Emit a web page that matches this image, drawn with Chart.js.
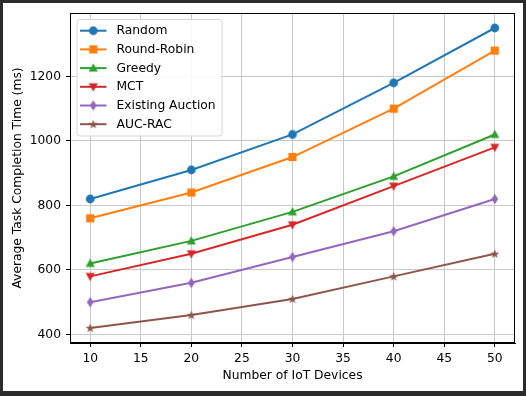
<!DOCTYPE html>
<html>
<head>
<meta charset="utf-8">
<script src="https://cdn.jsdelivr.net/npm/chart.js@4.4.1/dist/chart.umd.min.js"></script>
<style>
  html, body { margin: 0; padding: 0; background: #2b2b2b; }
  #wrap { position: absolute; left: 3px; top: 3px; width: 520px; height: 388px; background: #fff; }
</style>
</head>
<body>
<div id="wrap"><canvas id="chart" width="520" height="388"></canvas></div>
<script>
'use strict';

// data
const deviceCounts = [10, 20, 30, 40, 50];
const randomTimes = [820, 910, 1020, 1180, 1350];
const roundRobinTimes = [760, 840, 950, 1100, 1280];
const greedyTimes = [620, 690, 780, 890, 1020];
const mctTimes = [580, 650, 740, 860, 980];
const auctionTimes = [500, 560, 640, 720, 820];
const aucRacTimes = [420, 460, 510, 580, 650];
const xTicks = [10, 15, 20, 25, 30, 35, 40, 45, 50];
const yTicks = [400, 600, 800, 1000, 1200];

const FONT = 'DejaVu Sans';
const FSIZE = 12.3;

// marker bitmaps, matplotlib-like shapes
function makeMarker(shape, color) {
  const c = document.createElement('canvas');
  const s = 12;
  c.width = s; c.height = s;
  const g = c.getContext('2d');
  const m = s / 2;
  g.fillStyle = color;
  g.beginPath();
  if (shape === 'o') {
    g.arc(m, m, 4.4, 0, Math.PI * 2);
  } else if (shape === 's') {
    g.rect(m - 4.1, m - 4.1, 8.2, 8.2);
  } else if (shape === '^') {
    g.moveTo(m, m - 4.8); g.lineTo(m + 4.6, m + 3.6); g.lineTo(m - 4.6, m + 3.6);
  } else if (shape === 'v') {
    g.moveTo(m, m + 4.8); g.lineTo(m + 4.6, m - 3.6); g.lineTo(m - 4.6, m - 3.6);
  } else if (shape === 'd') {
    g.moveTo(m, m - 5.2); g.lineTo(m + 3.4, m); g.lineTo(m, m + 5.2); g.lineTo(m - 3.4, m);
  } else if (shape === '*') {
    for (let i = 0; i < 10; i++) {
      const r = i % 2 === 0 ? 4.8 : 2.0;
      const a = -Math.PI / 2 + i * Math.PI / 5;
      const px = m + r * Math.cos(a), py = m + 0.3 + r * Math.sin(a);
      if (i === 0) g.moveTo(px, py); else g.lineTo(px, py);
    }
  }
  g.closePath();
  g.fill();
  return c;
}

const series = [
  { label: 'Random', values: randomTimes, color: '#1f77b4', marker: 'o' },
  { label: 'Round-Robin', values: roundRobinTimes, color: '#ff7f0e', marker: 's' },
  { label: 'Greedy', values: greedyTimes, color: '#2ca02c', marker: '^' },
  { label: 'MCT', values: mctTimes, color: '#d62728', marker: 'v' },
  { label: 'Existing Auction', values: auctionTimes, color: '#9467bd', marker: 'd' },
  { label: 'AUC-RAC', values: aucRacTimes, color: '#8c564b', marker: '*' }
];

const datasets = series.map(s => ({
  label: s.label,
  data: deviceCounts.map((x, i) => ({ x: x, y: s.values[i] })),
  borderColor: s.color,
  backgroundColor: s.color,
  borderWidth: 2,
  pointStyle: makeMarker(s.marker, s.color),
  pointRadius: 5,
  pointHoverRadius: 5,
  tension: 0
}));

// legend drawn inside the axes, matplotlib style
const innerLegend = {
  id: 'innerLegend',
  afterDatasetsDraw(chart) {
    const ctx = chart.ctx;
    const a = chart.chartArea;
    const x0 = a.left + 6.5, y0 = a.top + 6, w = 145, h = 116.5;
    ctx.save();
    ctx.beginPath();
    ctx.roundRect(x0 + 0.5, y0 + 0.5, w, h, 3);
    ctx.fillStyle = 'rgba(255,255,255,0.85)';
    ctx.fill();
    ctx.strokeStyle = '#d6d6d6';
    ctx.lineWidth = 1;
    ctx.stroke();
    ctx.font = FSIZE + 'px ' + FONT;
    ctx.textBaseline = 'middle';
    ctx.fillStyle = '#000';
    datasets.forEach((d, i) => {
      const y = y0 + 11.7 + i * 18.7;
      ctx.strokeStyle = d.borderColor;
      ctx.lineWidth = 2;
      ctx.beginPath();
      ctx.moveTo(x0 + 3.5, y); ctx.lineTo(x0 + 30, y);
      ctx.stroke();
      ctx.drawImage(d.pointStyle, x0 + 16.8 - 6, y - 6);
      ctx.fillText(d.label, x0 + 40, y + 0.5);
    });
    ctx.restore();
  }
};

// top and right spines
const frame = {
  id: 'frame',
  afterDraw(chart) {
    const a = chart.chartArea;
    const ctx = chart.ctx;
    ctx.save();
    ctx.strokeStyle = '#000';
    ctx.lineWidth = 1;
    ctx.strokeRect(Math.round(a.left) + 0.5, Math.round(a.top) + 0.5,
      Math.round(a.right - a.left) - 1, Math.round(a.bottom - a.top) - 1);
    ctx.restore();
  }
};

new Chart(document.getElementById('chart'), {
  type: 'line',
  data: { datasets },
  options: {
    responsive: false,
    animation: false,
    events: [],
    layout: { padding: { top: 10, right: 8, left: 0, bottom: 0 } },
    plugins: { legend: { display: false }, tooltip: { enabled: false } },
    scales: {
      x: {
        type: 'linear',
        min: 8, max: 52,
        afterBuildTicks: s => { s.ticks = xTicks.map(v => ({ value: v })); },
        afterFit: s => { s.height = 48; s.paddingLeft = 0; s.paddingRight = 0; },
        ticks: { color: '#000', padding: 4, font: { family: FONT, size: FSIZE }, callback: v => String(v) },
        grid: { color: '#c8c8c8', lineWidth: 1, tickColor: '#000', tickLength: 4 },
        border: { display: true, color: '#000', width: 1 },
        title: { display: true, text: 'Number of IoT Devices', color: '#000',
          font: { family: FONT, size: FSIZE }, padding: { top: 0, bottom: 8 } }
      },
      y: {
        min: 373.5, max: 1396.5,
        afterBuildTicks: s => { s.ticks = yTicks.map(v => ({ value: v })); },
        afterFit: s => { s.width = 67; s.paddingTop = 0; s.paddingBottom = 0; },
        ticks: { color: '#000', padding: 5, font: { family: FONT, size: FSIZE }, callback: v => String(v) },
        grid: { color: '#c8c8c8', lineWidth: 1, tickColor: '#000', tickLength: 4 },
        border: { display: true, color: '#000', width: 1 },
        title: { display: true, text: 'Average Task Completion Time (ms)', color: '#000',
          font: { family: FONT, size: FSIZE }, padding: { top: 7, bottom: 0 } }
      }
    }
  },
  plugins: [innerLegend, frame]
});
</script>
</body>
</html>
